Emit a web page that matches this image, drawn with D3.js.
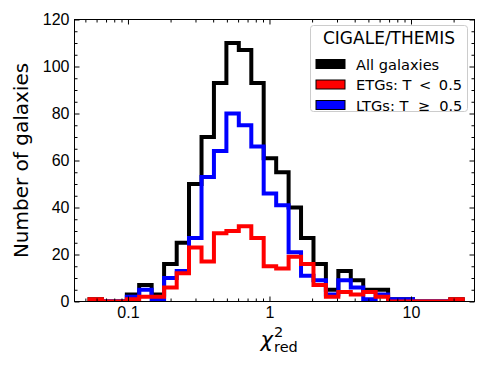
<!DOCTYPE html>
<html>
<head>
<meta charset="utf-8">
<script src="https://cdn.jsdelivr.net/npm/d3@7"></script>
<style>
    body { margin: 0; background: #fff; }
    svg { display: block; font-family: "DejaVu Sans", sans-serif; }
</style>
</head>
<body>
<svg id="chart" width="490" height="368"></svg>
<script>
// bin edges of the reduced chi2 histogram (log spaced)
const binEdges = [0.0535, 0.0655, 0.0803, 0.0982, 0.120, 0.147, 0.180, 0.221, 0.270, 0.331,
    0.405, 0.496, 0.607, 0.744, 0.910, 1.115, 1.365, 1.671, 2.046, 2.504,
    3.066, 3.754, 4.596, 5.627, 6.890, 8.435, 10.33, 12.64, 15.48, 18.95, 23.21];

// counts per bin
const allCounts = [1, 0, 0, 3, 7, 3, 16, 25, 50, 70, 93, 110, 107, 93, 61, 55, 40, 27, 16, 5, 13, 9, 5, 5, 1, 1, 0, 0, 0, 1];
const etgCounts = [1, 0, 0, 1, 2, 2, 6, 12, 23, 17, 29, 30, 32, 27, 15, 14, 19, 16, 7, 2, 4, 3, 4, 2, 0, 0, 0, 0, 0, 1];
const ltgCounts = [0, 0, 0, 2, 5, 1, 10, 13, 27, 53, 64, 80, 75, 66, 46, 41, 21, 11, 9, 3, 9, 6, 1, 3, 1, 1, 0, 0, 0, 0];

const yTicks = [0, 20, 40, 60, 80, 100, 120];
const xTicks = [0.1, 1, 10];
const xTickLabels = ["0.1", "1", "10"];

const legendTitle = "CIGALE/THEMIS";
const legendItems = [
    { label: "All galaxies", color: "#000000" },
    { label: "ETGs: T \u2009< \u20090.5", color: "#ff0000" },
    { label: "LTGs: T\u00a0 \u2265 \u00a00.5", color: "#0000ff" }
];

const svg = d3.select("#chart");
const plotLeft = 74.5, plotRight = 474.5, plotTop = 19.5, plotBottom = 301.5;

const x = d3.scaleLog().domain([0.0419, 28.1]).range([plotLeft, plotRight]);
const y = d3.scaleLinear().domain([0, 120]).range([plotBottom, plotTop]);

svg.append("clipPath").attr("id", "plotClip")
    .append("rect")
    .attr("x", plotLeft).attr("y", plotTop)
    .attr("width", plotRight - plotLeft).attr("height", plotBottom - plotTop);

// step outlines
function stepPoints(counts) {
    let pts = [[binEdges[0], 0]];
    counts.forEach((c, i) => pts.push([binEdges[i], c]));
    pts.push([binEdges[counts.length], counts[counts.length - 1]]);
    pts.push([binEdges[counts.length], 0]);
    return pts;
}

const line = d3.line()
    .x(d => x(d[0]))
    .y(d => y(d[1]))
    .curve(d3.curveStepAfter);

const series = [
    { counts: allCounts, color: "#000000" },
    { counts: ltgCounts, color: "#0000ff" },
    { counts: etgCounts, color: "#ff0000" }
];

svg.append("g")
    .attr("clip-path", "url(#plotClip)")
    .selectAll("path")
    .data(series)
    .join("path")
    .attr("d", d => line(stepPoints(d.counts)))
    .attr("fill", "none")
    .attr("stroke", d => d.color)
    .attr("stroke-width", 4)
    .attr("stroke-linejoin", "miter");

// axes, ticks pointing inwards on all four sides
const majorLen = 5, minorLen = 3;
const xMinor = x.ticks().filter(v => !xTicks.some(t => Math.abs(t - v) < 1e-9));
const yMinor = d3.range(0, 121, 5).filter(v => v % 20 !== 0);

function styleAxis(g) {
    g.select(".domain").remove();
    g.selectAll("line").attr("stroke", "#000").attr("stroke-width", 1);
    g.selectAll("text").attr("fill", "#000").style("font-size", "16px");
}

svg.append("g")
    .attr("transform", `translate(0,${plotBottom})`)
    .call(d3.axisBottom(x).tickValues(xTicks).tickFormat((d, i) => xTickLabels[i])
        .tickSizeInner(-majorLen).tickSizeOuter(0).tickPadding(5))
    .call(styleAxis);
svg.append("g")
    .attr("transform", `translate(0,${plotBottom})`)
    .call(d3.axisBottom(x).tickValues(xMinor).tickFormat("").tickSizeInner(-minorLen).tickSizeOuter(0))
    .call(styleAxis);
svg.append("g")
    .attr("transform", `translate(0,${plotTop})`)
    .call(d3.axisTop(x).tickValues(xTicks).tickFormat("").tickSizeInner(-majorLen).tickSizeOuter(0))
    .call(styleAxis);
svg.append("g")
    .attr("transform", `translate(0,${plotTop})`)
    .call(d3.axisTop(x).tickValues(xMinor).tickFormat("").tickSizeInner(-minorLen).tickSizeOuter(0))
    .call(styleAxis);

svg.append("g")
    .attr("transform", `translate(${plotLeft},0)`)
    .call(d3.axisLeft(y).tickValues(yTicks).tickSizeInner(-majorLen).tickSizeOuter(0).tickPadding(5))
    .call(styleAxis);
svg.append("g")
    .attr("transform", `translate(${plotLeft},0)`)
    .call(d3.axisLeft(y).tickValues(yMinor).tickFormat("").tickSizeInner(-minorLen).tickSizeOuter(0))
    .call(styleAxis);
svg.append("g")
    .attr("transform", `translate(${plotRight},0)`)
    .call(d3.axisRight(y).tickValues(yTicks).tickFormat("").tickSizeInner(-majorLen).tickSizeOuter(0))
    .call(styleAxis);
svg.append("g")
    .attr("transform", `translate(${plotRight},0)`)
    .call(d3.axisRight(y).tickValues(yMinor).tickFormat("").tickSizeInner(-minorLen).tickSizeOuter(0))
    .call(styleAxis);

svg.append("rect")
    .attr("x", plotLeft).attr("y", plotTop)
    .attr("width", plotRight - plotLeft).attr("height", plotBottom - plotTop)
    .attr("fill", "none").attr("stroke", "#000").attr("stroke-width", 1);

// axis labels
svg.append("text")
    .attr("transform", `translate(28,${(plotTop + plotBottom) / 2}) rotate(-90)`)
    .attr("text-anchor", "middle")
    .style("font-size", "20px")
    .text("Number of galaxies");

const xl = svg.append("g");
xl.append("text").attr("x", 273).attr("y", 347).attr("text-anchor", "end")
    .style("font-size", "21px").style("font-style", "italic").text("\u03c7");
xl.append("text").attr("x", 274).attr("y", 337)
    .style("font-size", "14.5px").text("2");
xl.append("text").attr("x", 274).attr("y", 352)
    .style("font-size", "14.5px").text("red");

// legend
const lg = svg.append("g");
lg.append("rect")
    .attr("x", 310.5).attr("y", 25.5).attr("width", 157).attr("height", 86)
    .attr("rx", 3).attr("ry", 3)
    .attr("fill", "#fff").attr("fill-opacity", 0.8)
    .attr("stroke", "#cccccc").attr("stroke-width", 1);
lg.append("text")
    .attr("x", 389).attr("y", 44).attr("text-anchor", "middle")
    .style("font-size", "17px")
    .text(legendTitle);
const rows = lg.selectAll("g.item")
    .data(legendItems)
    .join("g")
    .attr("class", "item")
    .attr("transform", (d, i) => `translate(316,${64 + i * 20.5})`);
rows.append("rect")
    .attr("x", 0).attr("y", -4.5).attr("width", 29).attr("height", 9)
    .attr("fill", d => d.color).attr("stroke", "#000").attr("stroke-width", 1);
rows.append("text")
    .attr("x", 40).attr("y", 5.5)
    .style("font-size", "14.6px")
    .text(d => d.label);
</script>
</body>
</html>
